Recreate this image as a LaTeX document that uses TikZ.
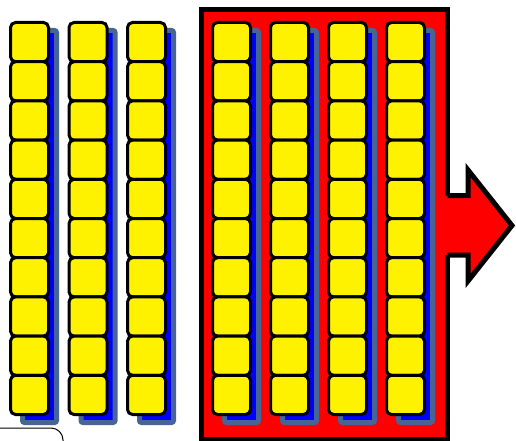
\documentclass[tikz,border=0pt]{standalone}
\definecolor{steel}{RGB}{70,100,150}
\begin{document}
\begin{tikzpicture}[x=1pt,y=-1pt,
  cell/.style={draw=black,fill=yellow,line width=3pt,rounded corners=5pt},
  shadowbox/.style={fill=blue,draw=steel,line width=5pt,rounded corners=2pt},
  redbox/.style={draw=black,fill=red,line width=5pt},
  frameline/.style={draw=black,line width=1pt,rounded corners=12pt}]
\useasboundingbox (0,0) rectangle (516,441);
\clip (0,0) rectangle (516,441);
% partial rounded frame at bottom left
\draw[frameline] (-30,428) rectangle (63,480);
% red box
\draw[redbox] (201.5,9.5) rectangle (447.5,439);
% columns
\foreach \cx in {9,67.5,126,211,269,327,385}{
  \draw[shadowbox] (\cx+13.5,30.5) rectangle (\cx+47.5,422.5);
  \foreach \r in {0,...,9}{
    \draw[cell] (\cx+1.5,{22.5+39.2*\r}) rectangle (\cx+39.5,{22.5+39.2*(\r+1)});
  }
}
% arrow
\fill[red] (444,195.5) -- (468,195.5) -- (468,170) -- (512,225.5) -- (468,281) -- (468,255) -- (444,255) -- cycle;
\draw[line width=5pt,miter limit=10] (447.5,195.5) -- (468,195.5) -- (468,170) -- (512,225.5) -- (468,281) -- (468,255) -- (447.5,255);
\end{tikzpicture}
\end{document}
